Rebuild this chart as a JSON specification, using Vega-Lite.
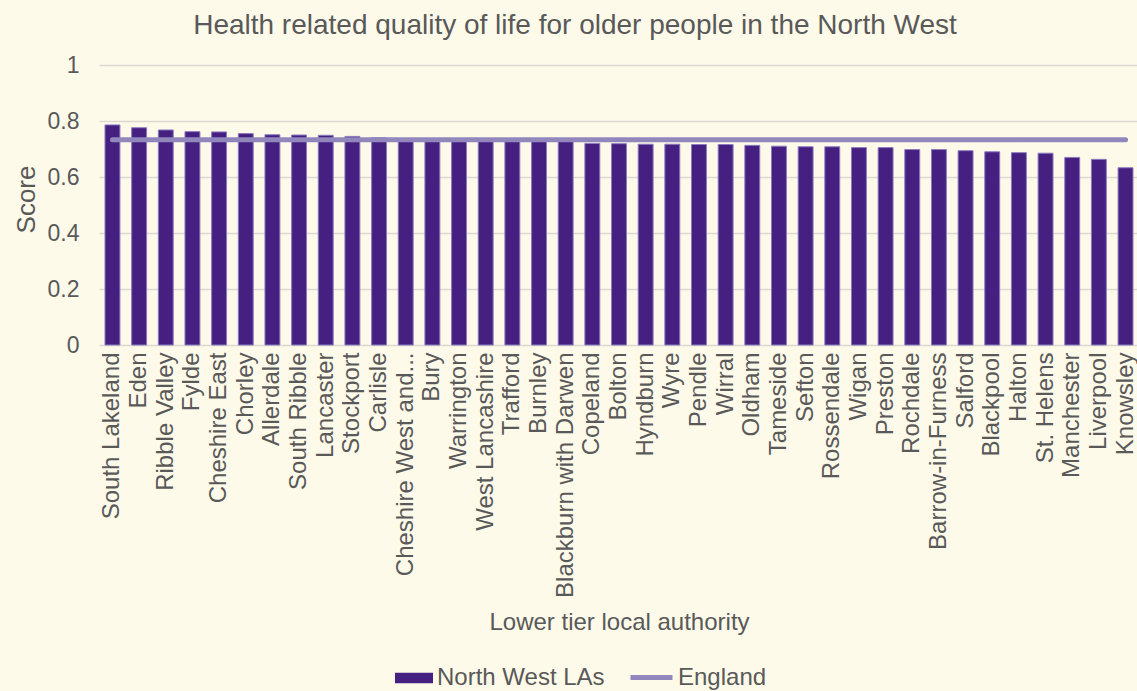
{
  "$schema": "https://vega.github.io/schema/vega-lite/v6.json",
  "autosize": {"type": "none"},
  "padding": {"left": 99, "top": 65, "right": 0, "bottom": 346},
  "width": 1040,
  "height": 280,
  "background": "#FEFAEA",
  "title": {
    "text": "Health related quality of life for older people in the North West",
    "anchor": "middle",
    "frame": "group",
    "dx": -44,
    "offset": -8,
    "baseline": "alphabetic",
    "font": "Liberation Sans",
    "fontSize": 28,
    "fontWeight": "normal",
    "color": "#595959"
  },
  "config": {
    "view": {"stroke": null},
    "font": "Liberation Sans",
    "axis": {"labelFont": "Liberation Sans", "titleFont": "Liberation Sans", "labelColor": "#595959", "titleColor": "#595959", "titleFontWeight": "normal"},
    "legend": {"labelFont": "Liberation Sans", "labelColor": "#595959", "labelFontSize": 24, "labelLimit": 400, "padding": 0}
  },
  "data": {
    "values": [
      {"name": "South Lakeland", "score": 0.786, "england": 0.733},
      {"name": "Eden", "score": 0.776, "england": 0.733},
      {"name": "Ribble Valley", "score": 0.768, "england": 0.733},
      {"name": "Fylde", "score": 0.762, "england": 0.733},
      {"name": "Cheshire East", "score": 0.761, "england": 0.733},
      {"name": "Chorley", "score": 0.755, "england": 0.733},
      {"name": "Allerdale", "score": 0.751, "england": 0.733},
      {"name": "South Ribble", "score": 0.750, "england": 0.733},
      {"name": "Lancaster", "score": 0.749, "england": 0.733},
      {"name": "Stockport", "score": 0.745, "england": 0.733},
      {"name": "Carlisle", "score": 0.740, "england": 0.733},
      {"name": "Cheshire West and Chester", "score": 0.736, "england": 0.733},
      {"name": "Bury", "score": 0.734, "england": 0.733},
      {"name": "Warrington", "score": 0.733, "england": 0.733},
      {"name": "West Lancashire", "score": 0.732, "england": 0.733},
      {"name": "Trafford", "score": 0.731, "england": 0.733},
      {"name": "Burnley", "score": 0.730, "england": 0.733},
      {"name": "Blackburn with Darwen", "score": 0.729, "england": 0.733},
      {"name": "Copeland", "score": 0.720, "england": 0.733},
      {"name": "Bolton", "score": 0.719, "england": 0.733},
      {"name": "Hyndburn", "score": 0.717, "england": 0.733},
      {"name": "Wyre", "score": 0.717, "england": 0.733},
      {"name": "Pendle", "score": 0.716, "england": 0.733},
      {"name": "Wirral", "score": 0.716, "england": 0.733},
      {"name": "Oldham", "score": 0.713, "england": 0.733},
      {"name": "Tameside", "score": 0.710, "england": 0.733},
      {"name": "Sefton", "score": 0.708, "england": 0.733},
      {"name": "Rossendale", "score": 0.708, "england": 0.733},
      {"name": "Wigan", "score": 0.705, "england": 0.733},
      {"name": "Preston", "score": 0.705, "england": 0.733},
      {"name": "Rochdale", "score": 0.698, "england": 0.733},
      {"name": "Barrow-in-Furness", "score": 0.698, "england": 0.733},
      {"name": "Salford", "score": 0.694, "england": 0.733},
      {"name": "Blackpool", "score": 0.690, "england": 0.733},
      {"name": "Halton", "score": 0.687, "england": 0.733},
      {"name": "St. Helens", "score": 0.685, "england": 0.733},
      {"name": "Manchester", "score": 0.670, "england": 0.733},
      {"name": "Liverpool", "score": 0.663, "england": 0.733},
      {"name": "Knowsley", "score": 0.633, "england": 0.733}
    ]
  },
  "encoding": {
    "x": {
      "field": "name",
      "type": "nominal",
      "sort": null,
      "scale": {"paddingInner": 0.44, "paddingOuter": 0.225},
      "axis": {
        "title": "Lower tier local authority",
        "titleFontSize": 24,
        "titleY": 277,
        "titleBaseline": "middle",
        "labelAngle": -90,
        "labelFontSize": 24,
        "labelPadding": 7,
        "labelLimit": 400,
        "labelExpr": "datum.label == 'Cheshire West and Chester' ? 'Cheshire West and...' : datum.label",
        "domain": false,
        "ticks": false
      }
    }
  },
  "layer": [
    {
      "mark": {"type": "bar", "stroke": "#8C7BC0", "strokeWidth": 1},
      "encoding": {
        "y": {
          "field": "score",
          "type": "quantitative",
          "scale": {"domain": [0, 1]},
          "axis": {
            "title": "Score",
            "titleFontSize": 26,
            "titleX": -73,
            "titleY": 134,
            "titleAngle": -90,
            "titleAlign": "center",
            "titleBaseline": "middle",
            "values": [0, 0.2, 0.4, 0.6, 0.8, 1],
            "format": ".1~f",
            "labelFontSize": 23,
            "labelPadding": 20,
            "domain": false,
            "ticks": false,
            "grid": true,
            "gridColor": "#DAD8D0",
            "gridWidth": 1.5
          }
        },
        "fill": {
          "datum": "North West LAs",
          "type": "nominal",
          "scale": {"range": ["#452081"]},
          "legend": {
            "title": null,
            "orient": "none",
            "legendX": 296,
            "legendY": 594,
            "symbolType": "M-1,-0.28H1V0.28H-1Z",
            "symbolSize": 1444,
            "symbolStrokeWidth": 0,
            "labelOffset": 4
          }
        }
      }
    },
    {
      "mark": {"type": "line", "strokeWidth": 5, "strokeCap": "round"},
      "encoding": {
        "y": {"field": "england", "type": "quantitative"},
        "stroke": {
          "datum": "England",
          "type": "nominal",
          "scale": {"range": ["#9287BD"]},
          "legend": {
            "title": null,
            "orient": "none",
            "legendX": 529,
            "legendY": 589,
            "symbolType": "M-1,0H1",
            "symbolSize": 1764,
            "symbolStrokeWidth": 5,
            "labelOffset": 3
          }
        }
      }
    }
  ]
}
